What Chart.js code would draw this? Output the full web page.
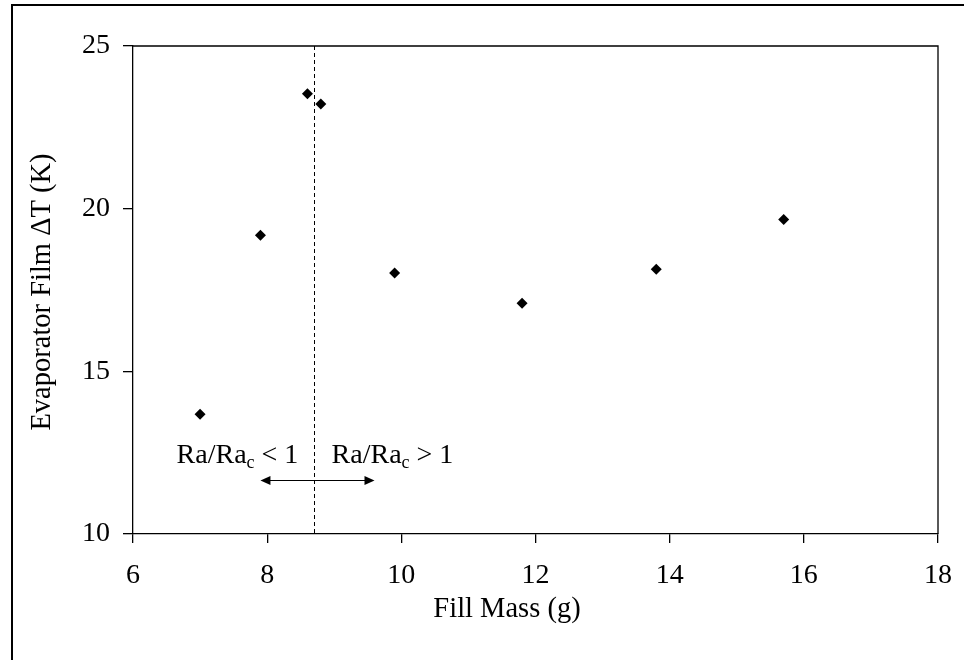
<!DOCTYPE html>
<html>
<head>
<meta charset="utf-8">
<script src="https://cdn.jsdelivr.net/npm/chart.js@4.4.0/dist/chart.umd.min.js"></script>
<style>
  html, body { margin: 0; padding: 0; background: #fff; }
  #wrap { width: 964px; height: 660px; }
</style>
</head>
<body>
<div id="wrap"><canvas id="chart" width="964" height="660"></canvas></div>
<script>
// Datos
const fillMass = [7.0, 7.9, 8.6, 8.8, 9.9, 11.8, 13.8, 15.7];
const filmDeltaT = [13.68, 19.18, 23.53, 23.22, 18.02, 17.09, 18.14, 19.67];

const xRange = [6, 18];
const xStep = 2;
const yRange = [10, 25];
const yStep = 5;

// Límite Ra/Rac = 1 y flecha
const raDivider = 8.7;
const arrowSpan = [7.9, 9.6];
const arrowY = 11.67;
const labelY = 12.19;
const leftLabelX = 6.65;
const rightLabelX = 8.96;

const xTitle = 'Fill Mass (g)';
const yTitle = 'Evaporator Film \u0394T (K)';

const FONT = "'Liberation Serif', 'Times New Roman', serif";

const overlayPlugin = {
    id: 'overlay',
    afterDraw(chart) {
        const ctx = chart.ctx;
        const area = chart.chartArea;
        const xs = chart.scales.x;
        const ys = chart.scales.y;
        ctx.save();

        // marco exterior
        ctx.strokeStyle = '#000';
        ctx.lineWidth = 2;
        ctx.strokeRect(12, 5, 1000, 700);

        // marco del área de trazado (arriba y derecha)
        ctx.lineWidth = 1.3;
        ctx.beginPath();
        ctx.moveTo(area.left, area.top);
        ctx.lineTo(area.right, area.top);
        ctx.lineTo(area.right, area.bottom);
        ctx.stroke();

        // línea discontinua
        const dx = Math.round(xs.getPixelForValue(raDivider)) + 0.5;
        ctx.lineWidth = 1;
        ctx.setLineDash([4, 3]);
        ctx.beginPath();
        ctx.moveTo(dx, area.top);
        ctx.lineTo(dx, area.bottom);
        ctx.stroke();
        ctx.setLineDash([]);

        // flecha doble
        const ax1 = xs.getPixelForValue(arrowSpan[0]);
        const ax2 = xs.getPixelForValue(arrowSpan[1]);
        const ay = Math.round(ys.getPixelForValue(arrowY)) + 0.5;
        ctx.lineWidth = 1;
        ctx.beginPath();
        ctx.moveTo(ax1 + 4, ay);
        ctx.lineTo(ax2 - 4, ay);
        ctx.stroke();
        ctx.fillStyle = '#000';
        ctx.beginPath();
        ctx.moveTo(ax1, ay);
        ctx.lineTo(ax1 + 10, ay - 4.5);
        ctx.lineTo(ax1 + 10, ay + 4.5);
        ctx.closePath();
        ctx.fill();
        ctx.beginPath();
        ctx.moveTo(ax2, ay);
        ctx.lineTo(ax2 - 10, ay - 4.5);
        ctx.lineTo(ax2 - 10, ay + 4.5);
        ctx.closePath();
        ctx.fill();

        // etiquetas Ra/Rac
        const ly = ys.getPixelForValue(labelY);
        drawRaLabel(ctx, xs.getPixelForValue(leftLabelX), ly, '<');
        drawRaLabel(ctx, xs.getPixelForValue(rightLabelX), ly, '>');

        // títulos de ejes
        ctx.fillStyle = '#000';
        ctx.font = '28.5px ' + FONT;
        ctx.textAlign = 'center';
        ctx.textBaseline = 'alphabetic';
        ctx.fillText(xTitle, 507, 617);
        ctx.translate(50, 292);
        ctx.rotate(-Math.PI / 2);
        ctx.fillText(yTitle, 0, 0);

        ctx.restore();
    }
};

function drawRaLabel(ctx, x, y, sign) {
    ctx.save();
    ctx.fillStyle = '#000';
    ctx.textAlign = 'left';
    ctx.textBaseline = 'alphabetic';
    ctx.font = '28px ' + FONT;
    ctx.fillText('Ra/Ra', x, y);
    let w = ctx.measureText('Ra/Ra').width;
    ctx.font = '18px ' + FONT;
    ctx.fillText('c', x + w, y + 5);
    w += ctx.measureText('c').width;
    ctx.font = '28px ' + FONT;
    ctx.fillText(' ' + sign + ' 1', x + w, y);
    ctx.restore();
}

new Chart(document.getElementById('chart'), {
    type: 'scatter',
    data: {
        datasets: [{
            label: 'Evaporator Film \u0394T',
            data: fillMass.map((m, i) => ({ x: m, y: filmDeltaT[i] })),
            pointStyle: 'rectRot',
            pointRadius: 5.5,
            pointHoverRadius: 5.5,
            backgroundColor: '#000',
            borderColor: '#000',
            borderWidth: 0
        }]
    },
    options: {
        responsive: false,
        animation: false,
        events: [],
        layout: {
            padding: { left: 12, top: 46, right: 26, bottom: 0 }
        },
        plugins: {
            legend: { display: false },
            tooltip: { enabled: false }
        },
        scales: {
            x: {
                type: 'linear',
                min: xRange[0],
                max: xRange[1],
                afterFit: s => { s.height = 126; s.paddingRight = 0; },
                grid: {
                    drawOnChartArea: false,
                    drawTicks: true,
                    tickLength: 9,
                    color: '#000',
                    lineWidth: 1.3
                },
                border: { display: true, color: '#000', width: 1.3 },
                ticks: {
                    stepSize: xStep,
                    color: '#000',
                    padding: 16,
                    maxRotation: 0,
                    font: { family: FONT, size: 28 }
                }
            },
            y: {
                type: 'linear',
                min: yRange[0],
                max: yRange[1],
                afterFit: s => { s.width = 121; },
                grid: {
                    drawOnChartArea: false,
                    drawTicks: true,
                    tickLength: 10,
                    color: '#000',
                    lineWidth: 1.3
                },
                border: { display: true, color: '#000', width: 1.3 },
                ticks: {
                    stepSize: yStep,
                    color: '#000',
                    padding: 13,
                    font: { family: FONT, size: 28 }
                }
            }
        }
    },
    plugins: [overlayPlugin]
});
</script>
</body>
</html>
